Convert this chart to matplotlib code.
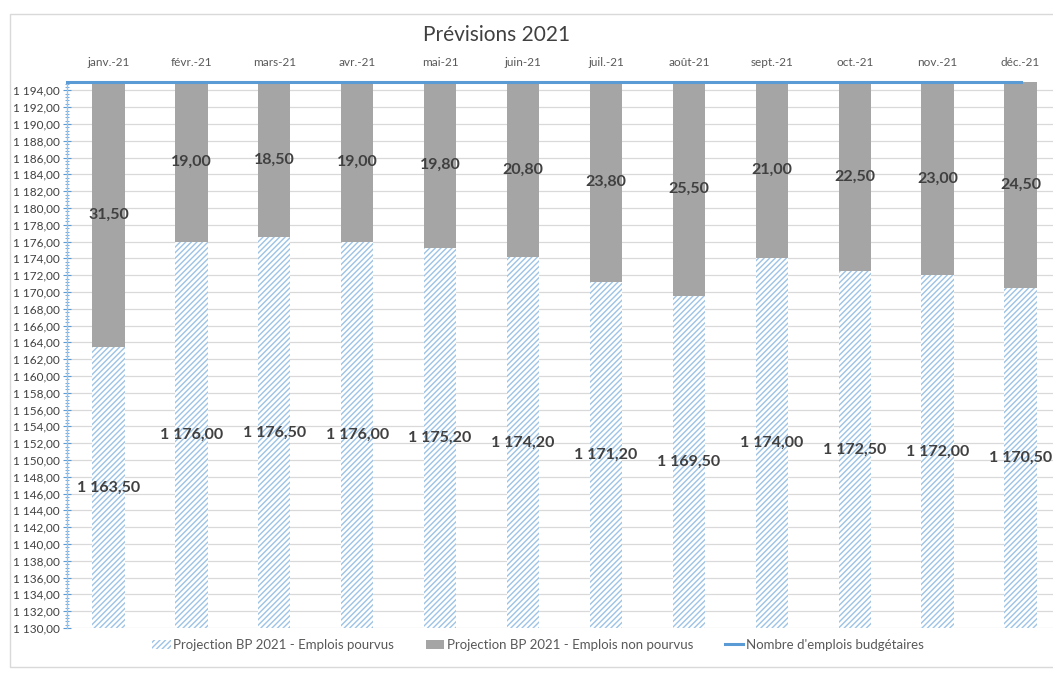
import matplotlib
matplotlib.use("Agg")
import matplotlib.pyplot as plt
from matplotlib.patches import Rectangle, Patch
from matplotlib.lines import Line2D
from matplotlib.ticker import MultipleLocator, FuncFormatter

plt.rcParams['font.family'] = ['Lato', 'DejaVu Sans']
plt.rcParams['hatch.linewidth'] = 1.0

months = ["janv.-21", "févr.-21", "mars-21", "avr.-21", "mai-21", "juin-21",
          "juil.-21", "août-21", "sept.-21", "oct.-21", "nov.-21", "déc.-21"]
pourvus = [1163.5, 1176.0, 1176.5, 1176.0, 1175.2, 1174.2,
           1171.2, 1169.5, 1174.0, 1172.5, 1172.0, 1170.5]
non_pourvus = [31.5, 19.0, 18.5, 19.0, 19.8, 20.8,
               23.8, 25.5, 21.0, 22.5, 23.0, 24.5]
budget = [1195.0] * 12

y_min, y_max = 1130.0, 1195.0

HATCH_BLUE = '#9dc3e6'
GREY = '#a5a5a5'
LINE_BLUE = '#5b9bd5'


def fr(v, dec=2):
    s = f"{v:,.{dec}f}"
    return s.replace(",", " ").replace(".", ",")


W, H = 1053, 675
fig = plt.figure(figsize=(W / 100, H / 100), dpi=100)

# chart frame
fig.patches.append(Rectangle((10 / W, 1 - 667 / H), 1.2, (667 - 14) / H,
                             transform=fig.transFigure, fill=False,
                             edgecolor='#d9d9d9', linewidth=1.0, zorder=0))

left, right, top, bottom = 67, 1062, 82, 628
ax = fig.add_axes([left / W, 1 - bottom / H, (right - left) / W, (bottom - top) / H])

x = list(range(len(months)))
bw = 0.39
base = [y_min] * len(months)
heights = [p - y_min for p in pourvus]
ax.bar(x, heights, bw, bottom=base, facecolor='white', edgecolor=HATCH_BLUE,
       linewidth=0, hatch='//////', zorder=2)
ax.bar(x, non_pourvus, bw, bottom=pourvus, color=GREY, edgecolor='none', zorder=2)
ax.plot([-0.5] + x, [budget[0]] + budget, color=LINE_BLUE, linewidth=2.2,
        zorder=3, clip_on=False)

lab_kw = dict(ha='center', va='center', fontsize=11.5, fontweight='bold',
              color='#404040', zorder=4)
for i in x:
    ax.text(i, (y_min + pourvus[i]) / 2, fr(pourvus[i]), **lab_kw)
    ax.text(i, pourvus[i] + non_pourvus[i] / 2, fr(non_pourvus[i]), **lab_kw)

ax.set_xlim(-0.5, 11.5)
ax.set_ylim(y_min, y_max)
ax.yaxis.set_major_locator(MultipleLocator(2))
ax.yaxis.set_minor_locator(MultipleLocator(0.4))
ax.yaxis.set_major_formatter(FuncFormatter(lambda v, p: fr(v)))
ax.tick_params(axis='y', which='major', labelsize=8.5, labelcolor='#404040',
               color=LINE_BLUE, direction='inout', length=6, width=0.8, pad=2)
ax.tick_params(axis='y', which='minor', color=LINE_BLUE, direction='inout',
               length=3, width=0.6)
ax.grid(axis='y', which='major', color='#d9d9d9', linewidth=0.9, zorder=0)
ax.set_axisbelow(True)

ax.xaxis.tick_top()
ax.set_xticks(x)
ax.set_xticklabels(months)
ax.tick_params(axis='x', length=0, labelsize=8.5, labelcolor='#595959', pad=10)

for s in ['top', 'right', 'bottom']:
    ax.spines[s].set_visible(False)
ax.spines['left'].set_color(HATCH_BLUE)
ax.spines['left'].set_linewidth(1.0)

fig.text(497 / W, 1 - 35 / H, "Prévisions 2021", ha='center', va='center',
         fontsize=15, color='#404040')

handles = [
    Patch(facecolor='white', edgecolor=HATCH_BLUE, linewidth=0, hatch='//////',
          label="Projection BP 2021 - Emplois pourvus"),
    Patch(facecolor=GREY, edgecolor='none',
          label="Projection BP 2021 - Emplois non pourvus"),
    Line2D([0], [0], color=LINE_BLUE, linewidth=2.2,
           label="Nombre d'emplois budgétaires"),
]
fig.legend(handles=handles, loc='center', bbox_to_anchor=(538 / W, 1 - 645 / H),
           ncol=3, frameon=False, fontsize=9.5, labelcolor='#595959',
           handlelength=1.4, handletextpad=0.2, columnspacing=2.4)

fig.savefig("out.png", dpi=100)
